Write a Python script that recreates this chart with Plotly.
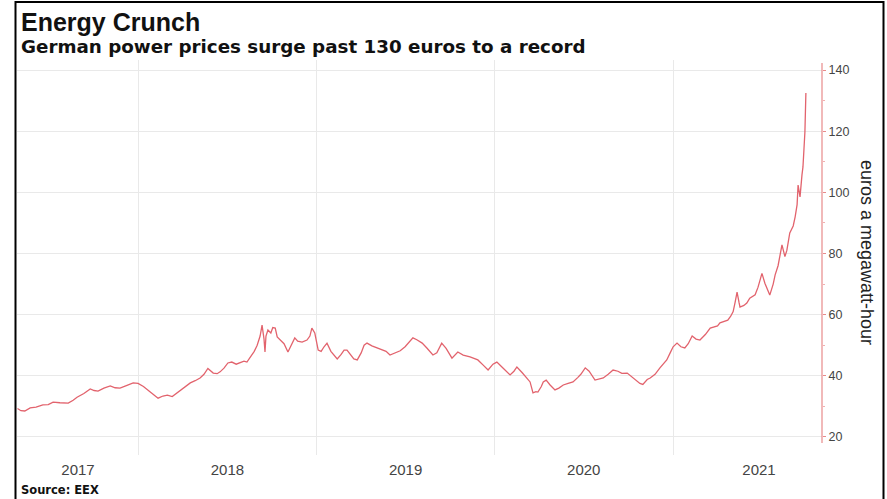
import plotly.graph_objects as go

# ---- data ----
dates = [
    "2017-04-28", "2017-05-05", "2017-05-13", "2017-05-24", "2017-06-05", "2017-06-19", "2017-06-30",
    "2017-07-10", "2017-07-24", "2017-08-10", "2017-08-20", "2017-08-28", "2017-09-11", "2017-09-24",
    "2017-10-02", "2017-10-10", "2017-10-22", "2017-11-04", "2017-11-14", "2017-11-24", "2017-12-07",
    "2017-12-21", "2017-12-31",
    "2018-01-11", "2018-01-25", "2018-02-02", "2018-02-10", "2018-02-20", "2018-03-01", "2018-03-11",
    "2018-03-21", "2018-04-02", "2018-04-17", "2018-04-27", "2018-05-07", "2018-05-15", "2018-05-23",
    "2018-06-03", "2018-06-11", "2018-06-17", "2018-06-25", "2018-07-03", "2018-07-11", "2018-07-20",
    "2018-07-28", "2018-08-05", "2018-08-11", "2018-08-17", "2018-08-26", "2018-09-01", "2018-09-07",
    "2018-09-11", "2018-09-15", "2018-09-17", "2018-09-19", "2018-09-23", "2018-09-29", "2018-10-03",
    "2018-10-08", "2018-10-12", "2018-10-18", "2018-10-26", "2018-11-03", "2018-11-09", "2018-11-17",
    "2018-11-23", "2018-12-02", "2018-12-12", "2018-12-18", "2018-12-22", "2018-12-28",
    "2019-01-04", "2019-01-10", "2019-01-16", "2019-01-22", "2019-01-30", "2019-02-05", "2019-02-12",
    "2019-02-20", "2019-02-26", "2019-03-04", "2019-03-12", "2019-03-18", "2019-03-25", "2019-04-02",
    "2019-04-08", "2019-04-14", "2019-04-24", "2019-05-05", "2019-05-13", "2019-05-23", "2019-05-31",
    "2019-06-11", "2019-06-21", "2019-07-01", "2019-07-09", "2019-07-17", "2019-07-25", "2019-08-05",
    "2019-08-15", "2019-08-27", "2019-09-04", "2019-09-14", "2019-09-23", "2019-10-05", "2019-10-17",
    "2019-10-28", "2019-11-11", "2019-11-21", "2019-11-27", "2019-12-08", "2019-12-18", "2019-12-28",
    "2020-01-05", "2020-01-18", "2020-02-01", "2020-02-09", "2020-02-15", "2020-02-26", "2020-03-07",
    "2020-03-13", "2020-03-19", "2020-03-25", "2020-03-29", "2020-04-05", "2020-04-09", "2020-04-15",
    "2020-04-23", "2020-05-03", "2020-05-11", "2020-05-20", "2020-05-30", "2020-06-09", "2020-06-19",
    "2020-06-25", "2020-07-04", "2020-07-12", "2020-07-24", "2020-08-04", "2020-08-10", "2020-08-20",
    "2020-08-30", "2020-09-09", "2020-09-17", "2020-09-28", "2020-10-08", "2020-10-16", "2020-10-24",
    "2020-10-30", "2020-11-08", "2020-11-14", "2020-11-24", "2020-12-04", "2020-12-12", "2020-12-18",
    "2020-12-25", "2020-12-31",
    "2021-01-08", "2021-01-16", "2021-01-24", "2021-01-31", "2021-02-08", "2021-02-16", "2021-02-24",
    "2021-03-07", "2021-03-17", "2021-03-25", "2021-04-01", "2021-04-06", "2021-04-14", "2021-04-22",
    "2021-04-28", "2021-05-03", "2021-05-07", "2021-05-11", "2021-05-15", "2021-05-17", "2021-05-25",
    "2021-05-31", "2021-06-06", "2021-06-10", "2021-06-17", "2021-06-23", "2021-07-01", "2021-07-07",
    "2021-07-13", "2021-07-17", "2021-07-24", "2021-07-28", "2021-08-03", "2021-08-07", "2021-08-11",
    "2021-08-17", "2021-08-21", "2021-08-27", "2021-09-03", "2021-09-07", "2021-09-11", "2021-09-13",
    "2021-09-17", "2021-09-21", "2021-09-23", "2021-09-25", "2021-09-27", "2021-09-29",
]
prices = [
    29.3, 28.6, 28.5, 29.5, 29.8, 30.5, 30.6,
    31.4, 31.2, 31.1, 32.0, 33.0, 34.2, 35.7,
    35.2, 35.0, 36.0, 36.7, 36.1, 36.0, 36.8,
    37.7, 37.5,
    36.5, 34.7, 33.8, 32.7, 33.4, 33.7, 33.2,
    34.4, 35.8, 37.7, 38.4, 39.3, 40.5, 42.4,
    40.9, 40.7, 41.3, 42.5, 44.2, 44.5, 43.8,
    44.2, 44.8, 44.5, 45.8, 48.0, 50.0, 53.0,
    56.6, 52.0, 47.8, 53.0, 55.0, 54.0, 55.8,
    55.6, 52.7, 51.7, 50.5, 47.8, 50.0, 52.4,
    51.3, 51.0, 51.7, 53.0, 55.6, 54.0,
    48.4, 48.0, 49.5, 50.7, 48.0, 47.0, 45.5,
    47.0, 48.4, 48.4, 46.5, 45.5, 45.2, 47.5,
    50.0, 50.7, 49.8, 49.1, 48.7, 48.0, 46.8,
    47.5, 48.2, 49.5, 51.0, 52.4, 51.8, 50.7,
    49.0, 46.8, 47.5, 50.7, 49.0, 45.8, 47.8,
    46.8, 46.2, 45.6, 45.2, 43.5, 41.9, 43.8,
    44.5, 42.5, 40.3, 41.5, 42.9, 41.0, 39.3,
    38.0, 34.4, 34.8, 34.7, 36.5, 38.0, 38.6,
    37.0, 35.4, 36.0, 37.0, 37.5, 38.0, 39.5,
    40.5, 42.6, 41.5, 38.6, 39.0, 39.3, 40.5,
    41.9, 41.5, 40.8, 40.9, 39.5, 38.5, 37.5,
    37.2, 38.8, 39.3, 40.5, 42.6, 44.0, 45.2,
    47.5, 49.5,
    50.7, 49.5, 49.1, 50.5, 53.0, 52.0, 51.7,
    53.5, 55.6, 56.0, 56.3, 57.3, 57.8, 58.2,
    59.5, 61.0, 64.0, 67.4, 64.0, 62.5, 63.0,
    63.8, 65.4, 65.8, 66.5, 69.0, 73.5, 70.3,
    68.0, 66.4, 70.0, 73.0, 76.0, 79.0, 82.8,
    79.0, 81.0, 86.7, 89.0, 92.0, 96.0, 102.4,
    98.5, 105.7, 108.3, 114.0, 119.7, 132.5,
]

year_label_dates = ["2017-08-30", "2018-07-02", "2019-07-02", "2020-07-01", "2021-06-25"]
year_labels = ["2017", "2018", "2019", "2020", "2021"]
y_ticks = [20, 40, 60, 80, 100, 120, 140]

title = "Energy Crunch"
subtitle = "German power prices surge past 130 euros to a record"
source = "Source: EEX"
y_title = "euros a megawatt-hour"

# ---- layout geometry ----
W, H = 887, 499
L, R, T, B = 17, 65, 60, 44
pw, ph = W - L - R, H - T - B


def px(x):
    return (x - L) / pw


def py(y):
    return (H - B - y) / ph


fig = go.Figure()
fig.add_trace(go.Scatter(
    x=dates, y=prices, mode="lines",
    line=dict(color="#e2636d", width=1.3),
    hoverinfo="x+y", showlegend=False,
))

fig.update_layout(
    width=W, height=H,
    margin=dict(l=L, r=R, t=T, b=B, pad=0),
    paper_bgcolor="white", plot_bgcolor="white",
    showlegend=False,
    xaxis=dict(
        type="date",
        range=["2017-04-27", "2021-11-01"],
        tickmode="array", tickvals=year_label_dates, ticktext=year_labels,
        showgrid=False, ticks="", showline=False, zeroline=False,
        tickfont=dict(family="Liberation Sans Narrow, Liberation Sans, Arial", size=15, color="#444"),
        ticklabelstandoff=4,
        minor=dict(tickmode="array",
                   tickvals=["2018-01-01", "2019-01-01", "2020-01-01", "2021-01-01"],
                   showgrid=True, gridcolor="#e9e9e9", gridwidth=1, ticks=""),
    ),
    yaxis=dict(
        side="right",
        range=[14.11, 143.27],
        tickmode="array", tickvals=y_ticks,
        showgrid=True, gridcolor="#e9e9e9", gridwidth=1,
        zeroline=False, showline=False,
        ticks="outside", ticklen=3, tickcolor="#e88a8a", tickwidth=1,
        tickfont=dict(family="Liberation Sans, Arial", size=12.5, color="#444"),
        ticklabelstandoff=0,
        minor=dict(tickvals=[30, 50, 70, 90, 110, 130], ticks="outside", ticklen=2,
                   tickcolor="#f0b0b0", showgrid=False),
    ),
)

shapes = [
    # right axis line
    dict(type="line", xref="paper", yref="y", x0=1, x1=1, y0=18, y1=142.3,
         line=dict(color="#e88a8a", width=1.2)),
    # outer black frame
    dict(type="rect", xref="paper", yref="paper",
         x0=px(15.5), x1=px(883.5), y0=py(2), y1=py(520),
         line=dict(color="black", width=2), fillcolor="rgba(0,0,0,0)"),
]
fig.update_layout(shapes=shapes)

annotations = [
    dict(text=title, xref="paper", yref="paper", x=px(19), y=py(22),
         xanchor="left", yanchor="middle", showarrow=False,
         font=dict(family="Liberation Sans, Arial", size=25, color="#111", weight="bold")),
    dict(text=subtitle, xref="paper", yref="paper", x=px(19), y=py(46),
         xanchor="left", yanchor="middle", showarrow=False,
         font=dict(family="DejaVu Sans, Verdana", size=18.3, color="#111", weight="bold")),
    dict(text=source, xref="paper", yref="paper", x=px(19), y=py(490),
         xanchor="left", yanchor="middle", showarrow=False,
         font=dict(family="DejaVu Sans, Verdana", size=11.5, color="#111", weight="bold")),
    dict(text=y_title, xref="paper", yref="paper", x=px(867), y=py(252),
         xanchor="center", yanchor="middle", showarrow=False, textangle=90,
         font=dict(family="Liberation Sans, Arial", size=18, color="#222")),
]
fig.update_layout(annotations=annotations)

fig.write_html(
    "out.html",
    config={"displayModeBar": False},
    post_script="document.body.style.margin='0';document.body.style.overflow='hidden';",
)
